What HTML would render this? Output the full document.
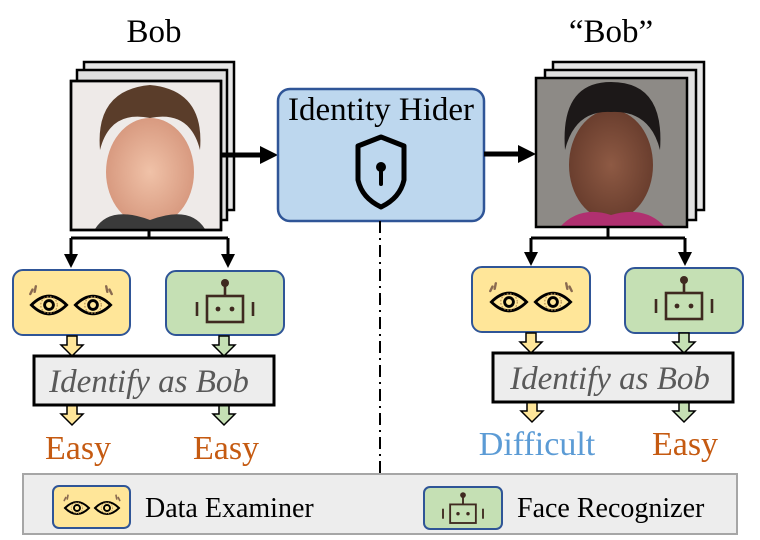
<!DOCTYPE html>
<html><head><meta charset="utf-8"><style>
html,body{margin:0;padding:0;background:#fff}
svg{display:block}
text{font-family:"Liberation Serif","Times New Roman",serif}
</style></head><body>
<svg width="760" height="540" viewBox="0 0 760 540" xmlns="http://www.w3.org/2000/svg">
<defs>
<symbol id="eyes" viewBox="0 0 80 40">
  <g fill="none" stroke="#000" stroke-width="2.6">
    <path d="M4 20 Q20 4 36 20 Q20 36 4 20Z"/><circle cx="20" cy="20" r="4"/>
    <path d="M44 20 Q60 4 76 20 Q60 36 44 20Z"/><circle cx="60" cy="20" r="4"/>
  </g>
  <g fill="none" stroke="#b08850" stroke-width="1" stroke-dasharray="1.5 1.5">
    <circle cx="20" cy="20" r="7.5"/><circle cx="60" cy="20" r="7.5"/>
  </g>
  <g stroke="#8a6a50" stroke-width="2.2" stroke-linecap="round">
    <line x1="3" y1="10" x2="5" y2="6"/><line x1="7" y1="8" x2="8" y2="3"/>
    <line x1="77" y1="10" x2="75" y2="6"/><line x1="73" y1="8" x2="72" y2="3"/>
  </g>
</symbol>
<symbol id="robot" viewBox="0 0 70 50">
  <g stroke="#3f2a20" stroke-width="2.6" fill="none">
    <rect x="17" y="20" width="36" height="26"/>
    <line x1="35" y1="8" x2="35" y2="20"/>
    <line x1="7" y1="26" x2="7" y2="40"/><line x1="63" y1="26" x2="63" y2="40"/>
  </g>
  <circle cx="35" cy="7" r="4" fill="#3f2a20"/>
  <circle cx="28" cy="33" r="2.4" fill="#3f2a20"/><circle cx="42" cy="33" r="2.4" fill="#3f2a20"/>
</symbol>
<radialGradient id="f1" cx="50%" cy="50%" r="50%"><stop offset="0" stop-color="#f0c2a8"/><stop offset="1" stop-color="#d89a80"/></radialGradient>
<radialGradient id="f2" cx="50%" cy="50%" r="50%"><stop offset="0" stop-color="#8e5a44"/><stop offset="1" stop-color="#6a3e2e"/></radialGradient>
</defs>

<text x="154" y="42" font-size="33" text-anchor="middle">Bob</text>
<text x="611" y="42" font-size="33" text-anchor="middle">“Bob”</text>

<rect x="84" y="62" width="150" height="148" fill="#e6e6e6" stroke="#000" stroke-width="2.5"/>
<rect x="77" y="70" width="150" height="150" fill="#e0e0e0" stroke="#000" stroke-width="2.5"/>
<rect x="71" y="81" width="150" height="149" fill="#eeeae8" stroke="#000" stroke-width="2.5"/>
<g>
  <ellipse cx="150" cy="172" rx="44" ry="54" fill="url(#f1)"/>
  <path d="M100 150 Q95 90 150 85 Q205 90 200 150 Q190 110 150 118 Q110 110 100 150Z" fill="#5a3d2a"/>
  <path d="M95 229 Q110 205 150 220 Q190 205 205 229Z" fill="#3a3a3a"/>
</g>
<rect x="71" y="81" width="150" height="149" fill="none" stroke="#000" stroke-width="2.5"/>

<line x1="221" y1="155" x2="262" y2="155" stroke="#000" stroke-width="5"/>
<polygon points="260,146 278,155 260,164" fill="#000"/>

<rect x="278" y="89" width="206" height="132" rx="12" fill="#bdd7ee" stroke="#2f5597" stroke-width="2.5"/>
<text x="381" y="120" font-size="33" text-anchor="middle">Identity Hider</text>
<path d="M381 137 L404 146 L404 180 Q400 198 381 207 Q362 198 358 180 L358 146 Z" fill="none" stroke="#000" stroke-width="5" stroke-linejoin="round"/>
<circle cx="381" cy="167" r="5" fill="#000"/>
<line x1="381" y1="167" x2="381" y2="184" stroke="#000" stroke-width="4" stroke-linecap="round"/>

<line x1="380" y1="221" x2="380" y2="474" stroke="#000" stroke-width="2" stroke-dasharray="12 5 2 5"/>

<line x1="484" y1="154" x2="520" y2="154" stroke="#000" stroke-width="5"/>
<polygon points="518,145 536,154 518,163" fill="#000"/>

<rect x="553" y="62" width="151" height="148" fill="#e6e6e6" stroke="#000" stroke-width="2.5"/>
<rect x="545" y="70" width="151" height="150" fill="#e0e0e0" stroke="#000" stroke-width="2.5"/>
<rect x="536" y="78" width="151" height="149" fill="#8d8a86"/>
<g>
  <ellipse cx="611" cy="165" rx="42" ry="55" fill="url(#f2)"/>
  <path d="M565 150 Q560 82 611 82 Q665 82 660 150 Q650 110 611 112 Q575 110 565 150Z" fill="#1c1818"/>
  <path d="M560 227 Q580 205 611 215 Q645 205 665 227Z" fill="#b03070"/>
</g>
<rect x="536" y="78" width="151" height="149" fill="none" stroke="#000" stroke-width="2.5"/>

<g stroke="#000" stroke-width="3" fill="none">
  <path d="M149 230 V238 M71 238 H228 M71 238 V256 M228 238 V256"/>
  <path d="M608 227 V238 M531 238 H685 M531 238 V254 M685 238 V254"/>
</g>
<g fill="#000">
  <polygon points="64,254 78,254 71,268"/><polygon points="221,254 235,254 228,268"/>
  <polygon points="524,252 538,252 531,266"/><polygon points="678,252 692,252 685,266"/>
</g>

<rect x="13" y="270" width="117" height="65" rx="10" fill="#ffe699" stroke="#2f5597" stroke-width="2"/>
<use href="#eyes" x="25" y="283" width="92" height="44"/>
<rect x="166" y="271" width="118" height="64" rx="10" fill="#c5e0b4" stroke="#2f5597" stroke-width="2"/>
<use href="#robot" x="190" y="276" width="70" height="50"/>

<rect x="472" y="267" width="118" height="65" rx="10" fill="#ffe699" stroke="#2f5597" stroke-width="2"/>
<use href="#eyes" x="485" y="280" width="92" height="44"/>
<rect x="625" y="268" width="118" height="65" rx="10" fill="#c5e0b4" stroke="#2f5597" stroke-width="2"/>
<use href="#robot" x="649" y="273" width="70" height="50"/>

<g stroke="#000" stroke-width="1.5">
  <g fill="#ffe699">
    <path d="M67 336 H77 V345 H83 L72 356 L61 345 H67Z"/>
    <path d="M67 405 H77 V414 H83 L72 425 L61 414 H67Z"/>
    <path d="M526 333 H536 V342 H542 L531 353 L520 342 H526Z"/>
    <path d="M527 402 H537 V411 H543 L532 422 L521 411 H527Z"/>
  </g>
  <g fill="#c5e0b4">
    <path d="M219 336 H229 V345 H235 L224 356 L213 345 H219Z"/>
    <path d="M219 405 H229 V414 H235 L224 425 L213 414 H219Z"/>
    <path d="M679 333 H689 V342 H695 L684 353 L673 342 H679Z"/>
    <path d="M679 402 H689 V411 H695 L684 422 L673 411 H679Z"/>
  </g>
</g>

<rect x="34" y="356" width="240" height="49" fill="#ededed" stroke="#000" stroke-width="3"/>
<text x="149" y="392" font-size="33" font-style="italic" fill="#595959" text-anchor="middle">Identify as Bob</text>
<rect x="493" y="353" width="240" height="49" fill="#ededed" stroke="#000" stroke-width="3"/>
<text x="610" y="389" font-size="33" font-style="italic" fill="#595959" text-anchor="middle">Identify as Bob</text>

<text x="78" y="459" font-size="34" fill="#c55a11" text-anchor="middle">Easy</text>
<text x="226" y="459" font-size="34" fill="#c55a11" text-anchor="middle">Easy</text>
<text x="537" y="455" font-size="34" fill="#5b9bd5" text-anchor="middle">Difficult</text>
<text x="685" y="455" font-size="34" fill="#c55a11" text-anchor="middle">Easy</text>

<rect x="23" y="474" width="714" height="60" fill="#ededed" stroke="#a6a6a6" stroke-width="2"/>
<rect x="53" y="486" width="77" height="42" rx="6" fill="#ffe699" stroke="#2f5597" stroke-width="2"/>
<use href="#eyes" x="60" y="493" width="64" height="30"/>
<text x="145" y="517" font-size="28">Data Examiner</text>
<rect x="424" y="487" width="78" height="42" rx="6" fill="#c5e0b4" stroke="#2f5597" stroke-width="2"/>
<use href="#robot" x="438" y="489" width="50" height="38"/>
<text x="517" y="517" font-size="28">Face Recognizer</text>
</svg>
</body></html>
